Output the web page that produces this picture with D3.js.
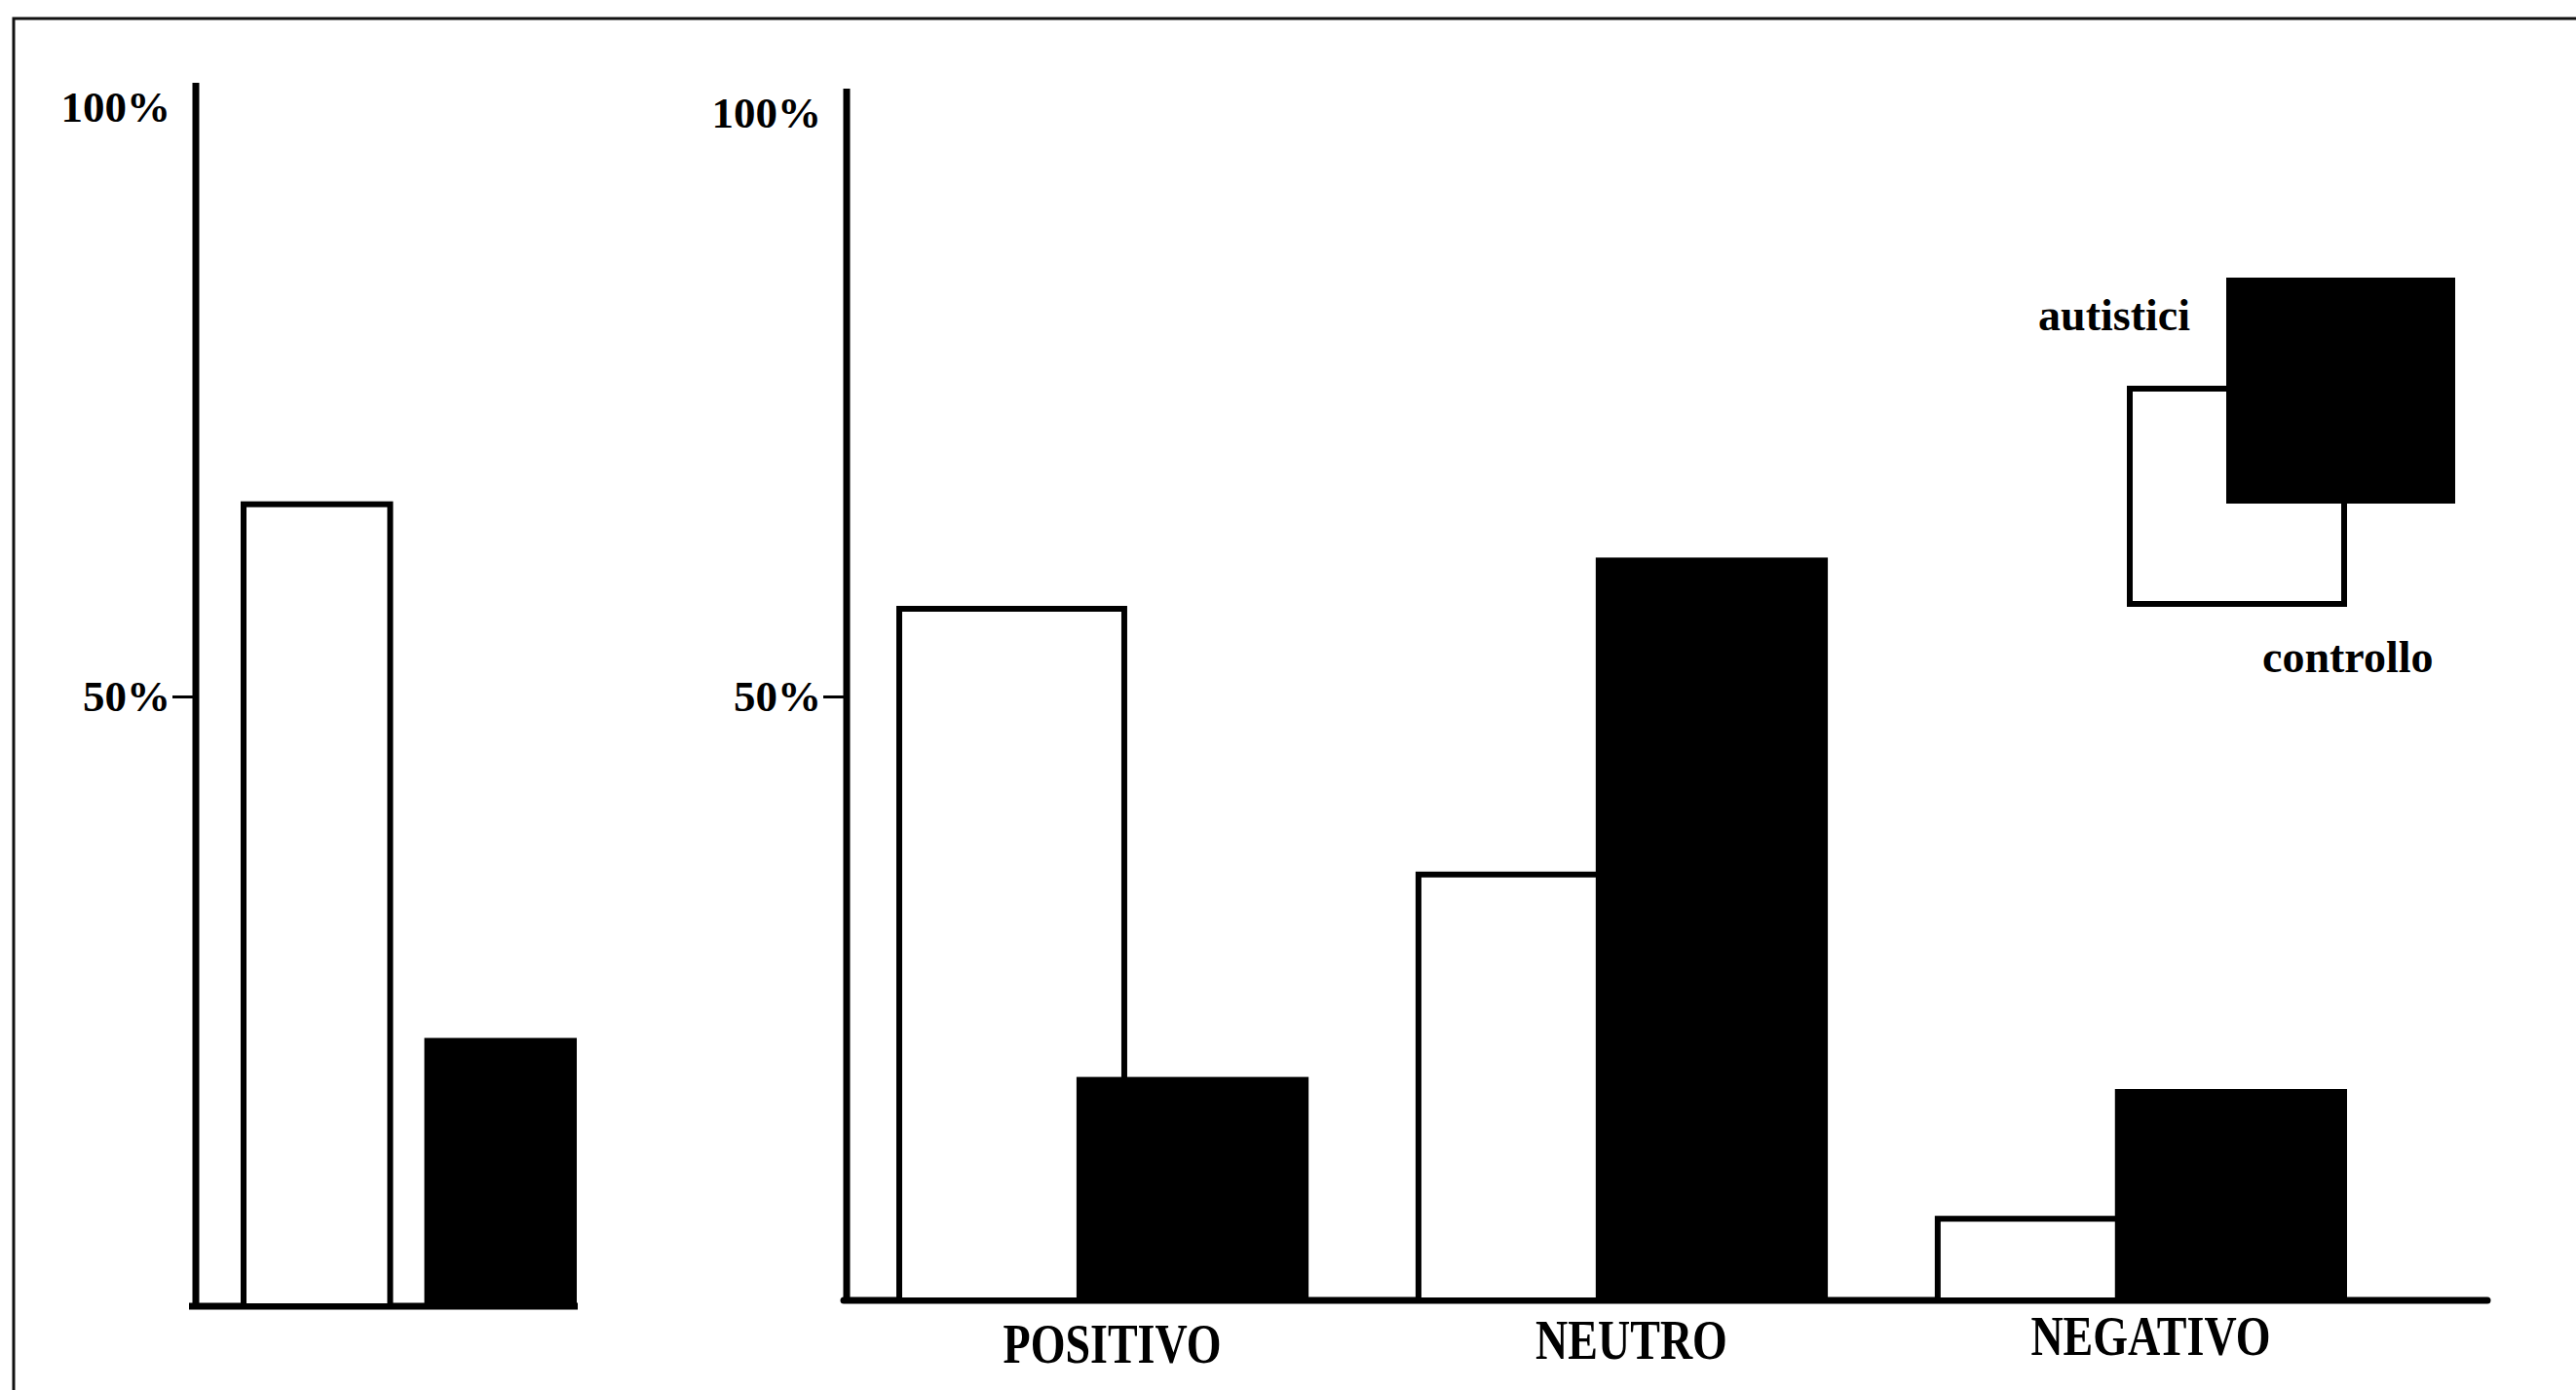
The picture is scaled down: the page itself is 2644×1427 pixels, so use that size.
<!DOCTYPE html>
<html>
<head>
<meta charset="utf-8">
<script src="https://cdn.jsdelivr.net/npm/d3@7"></script>
<style>
  html, body { margin: 0; padding: 0; background: #fff; }
  svg { display: block; }
  text { font-family: "Liberation Serif", "Times New Roman", serif; font-weight: bold; fill: #000; }
</style>
</head>
<body>
<svg id="chart" width="2644" height="1427"></svg>
<script>
// ---- data ----
const categories = ["POSITIVO", "NEUTRO", "NEGATIVO"];
const controllo = [57.5, 35.5, 7];     // white bars (right panel)
const autistici = [18.5, 61.5, 17.5];  // black bars (right panel)
const overallSeries = ["controllo", "autistici"];
const overallValues = [66, 22];        // left panel
const yTicks = [50, 100];
const yTickLabels = ["50%", "100%"];
const legendLabels = ["autistici", "controllo"];

// ---- layout ----
const svg = d3.select("#chart");
const W = 2644, H = 1427;
svg.append("rect").attr("width", W).attr("height", H).attr("fill", "#fff");
// scanned frame (top & left edges visible)
svg.append("rect").attr("x", 14).attr("y", 19).attr("width", 2800).attr("height", 1600)
  .attr("fill", "none").attr("stroke", "#111").attr("stroke-width", 3);

const AX = 7, OUT = 6;

function yAxis(g, y, x) {
  const ax = d3.axisLeft(y).tickValues(yTicks)
    .tickFormat((d, i) => yTickLabels[i])
    .tickSizeInner(24).tickSizeOuter(0).tickPadding(2);
  const a = g.append("g").attr("transform", `translate(${x},0)`).call(ax);
  a.select(".domain").attr("stroke", "#000").attr("stroke-width", AX)
    .attr("d", `M0,${y(0) + 3}V${y(100) - 4}`);
  a.selectAll(".tick line").attr("stroke", "#000").attr("stroke-width", 3);
  a.selectAll(".tick text").style("font-size", "45px").style("font-family", "Liberation Serif").style("font-weight", "bold");
  a.selectAll(".tick").filter(d => d === 100).select("line").remove();
  a.selectAll(".tick").filter(d => d === 100).select("text").attr("y", 21);
  return a;
}

// ---- left panel ----
const left = svg.append("g");
const yL = d3.scaleLinear().domain([0, 100]).range([1341, 89]);
const xL = d3.scaleBand().domain(overallSeries).range([247, 592]).paddingInner(0.17).paddingOuter(0);
left.append("line").attr("x1", 194).attr("x2", 593).attr("y1", yL(0)).attr("y2", yL(0))
  .attr("stroke", "#000").attr("stroke-width", AX);
left.selectAll("rect.bar").data(overallSeries).join("rect").attr("class", "bar")
  .attr("x", (d, i) => xL(d) + (i === 0 ? OUT / 2 : 0))
  .attr("y", (d, i) => yL(overallValues[i]) + (i === 0 ? OUT / 2 : 0))
  .attr("width", (d, i) => xL.bandwidth() - (i === 0 ? OUT : 0))
  .attr("height", (d, i) => yL(0) - yL(overallValues[i]) - (i === 0 ? OUT / 2 : 0))
  .attr("fill", (d, i) => i === 0 ? "#fff" : "#000")
  .attr("stroke", (d, i) => i === 0 ? "#000" : "none")
  .attr("stroke-width", OUT);
yAxis(left, yL, 201);

// ---- right panel ----
const right = svg.append("g");
const yR = d3.scaleLinear().domain([0, 100]).range([1335, 95]);
const xR = d3.scaleBand().domain(categories).range([920, 2409]).paddingInner(0.206).paddingOuter(0);
const bw = xR.bandwidth();
const whiteW = bw * 0.56, blackOff = bw * 0.437, blackW = bw * 0.563;
right.append("line").attr("x1", 866).attr("x2", 2553).attr("y1", yR(0)).attr("y2", yR(0))
  .attr("stroke", "#000").attr("stroke-width", AX).attr("stroke-linecap", "round");
right.selectAll("rect.ctrl").data(categories).join("rect").attr("class", "ctrl")
  .attr("x", d => xR(d) + OUT / 2)
  .attr("y", (d, i) => yR(controllo[i]) + OUT / 2)
  .attr("width", whiteW - OUT)
  .attr("height", (d, i) => yR(0) - yR(controllo[i]) - OUT / 2)
  .attr("fill", "#fff").attr("stroke", "#000").attr("stroke-width", OUT);
right.selectAll("rect.aut").data(categories).join("rect").attr("class", "aut")
  .attr("x", d => xR(d) + blackOff)
  .attr("y", (d, i) => yR(autistici[i]))
  .attr("width", blackW)
  .attr("height", (d, i) => yR(0) - yR(autistici[i]))
  .attr("fill", "#000");
yAxis(right, yR, 869);

// category labels
right.selectAll("text.cat").data(categories).join("text").attr("class", "cat")
  .attr("transform", (d, i) => `translate(${xR(d) + bw / 2 + 10},${1399 - i * 4}) scale(1,1.22)`)
  .attr("text-anchor", "middle")
  .style("font-size", "46px")
  .text(d => d);

// ---- legend ----
const leg = svg.append("g");
leg.append("rect").attr("x", 2183 + OUT / 2).attr("y", 396 + OUT / 2)
  .attr("width", 226 - OUT).attr("height", 227 - OUT)
  .attr("fill", "#fff").attr("stroke", "#000").attr("stroke-width", OUT);
leg.append("rect").attr("x", 2285).attr("y", 285).attr("width", 235).attr("height", 232).attr("fill", "#000");
leg.append("text").attr("x", 2248).attr("y", 339).attr("text-anchor", "end")
  .style("font-size", "46px").text(legendLabels[0]);
leg.append("text").attr("x", 2322).attr("y", 690).attr("text-anchor", "start")
  .style("font-size", "46px").text(legendLabels[1]);
</script>
</body>
</html>
